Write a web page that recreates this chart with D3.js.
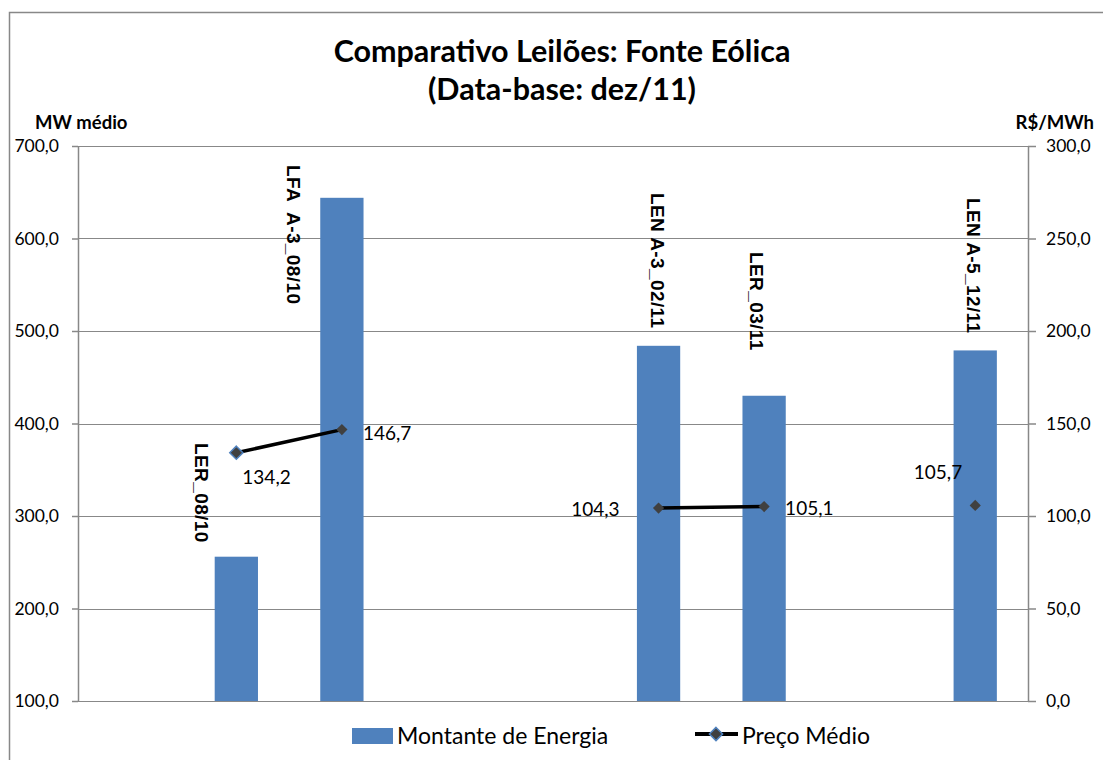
<!DOCTYPE html>
<html>
<head>
<meta charset="utf-8">
<script src="https://cdn.jsdelivr.net/npm/d3@7"></script>
<style>
  body { margin: 0; background: #fff; }
  svg { display: block; }
  .tick text { font-family: Lato, "Open Sans", sans-serif; font-size: 17.5px; fill: #000; }
</style>
</head>
<body>
<div id="chart"></div>
<script>
// Data (empty slots keep the gaps between auctions)
var slots = [0, 1, 2, 3, 4, 5, 6, 7, 8];
var auctionNames = [null, "LER_08/10", "LFA  A-3_08/10", null, null, "LEN A-3_02/11", "LER_03/11", null, "LEN A-5_12/11"];
var energy = [null, 256, 644, null, null, 484, 430, null, 479];   // MW médio
var price = [null, 134.2, 146.7, null, null, 104.3, 105.1, null, 105.7]; // R$/MWh
var leftTicks = [100, 200, 300, 400, 500, 600, 700];
var rightTicks = [0, 50, 100, 150, 200, 250, 300];

// label nudges as placed by hand in the original (layout only)
var nameNudge = {1: [-35, 443], 2: [-48, 165], 5: [-1, 193], 6: [-7, 252], 8: [-2, 198]};
var priceNudge = {1: [6, 31, "start"], 2: [21, 10, "start"], 5: [-39, 8, "end"], 6: [21, 8, "start"], 8: [-13, -26, "end"]};

var W = 1103, H = 760;
var margin = {top: 146, right: 75, bottom: 59, left: 78};
var width = W - margin.left - margin.right;
var height = H - margin.top - margin.bottom;

var pt = d3.formatLocale({decimal: ",", thousands: ".", grouping: [3], currency: ["R$", ""]});
var fmt = pt.format(".1f");

var svg = d3.select("#chart").append("svg")
    .attr("width", W)
    .attr("height", H);

// outer frame
svg.append("rect")
    .attr("x", 9.5).attr("y", 12.5)
    .attr("width", W + 20).attr("height", H + 20)
    .attr("fill", "none").attr("stroke", "#888").attr("stroke-width", 1.5);

// title
svg.append("text")
    .attr("x", 562).attr("y", 62)
    .attr("text-anchor", "middle")
    .style("font-family", "Lato, sans-serif").style("font-weight", "bold").style("font-size", "30.5px")
    .text("Comparativo Leilões: Fonte Eólica");
svg.append("text")
    .attr("x", 562).attr("y", 100)
    .attr("text-anchor", "middle")
    .style("font-family", "Lato, sans-serif").style("font-weight", "bold").style("font-size", "30.5px")
    .text("(Data-base: dez/11)");

// axis titles
svg.append("text")
    .attr("x", 35).attr("y", 129)
    .style("font-family", "Lato, sans-serif").style("font-weight", "bold").style("font-size", "18.5px")
    .text("MW médio");
svg.append("text")
    .attr("x", 1094).attr("y", 129)
    .attr("text-anchor", "end")
    .style("font-family", "Lato, sans-serif").style("font-weight", "bold").style("font-size", "18.5px")
    .text("R$/MWh");

var g = svg.append("g")
    .attr("transform", "translate(" + margin.left + "," + margin.top + ")");

var x = d3.scaleBand().domain(slots).range([0, width]).paddingInner(0.59).paddingOuter(0.295);
var yL = d3.scaleLinear().domain([100, 700]).range([height, 0]);
var yR = d3.scaleLinear().domain([0, 300]).range([height, 0]);
var cx = function(i) { return x(i) + x.bandwidth() / 2; };

// gridlines
g.selectAll(".grid").data(leftTicks).enter().append("line")
    .attr("x1", 0).attr("x2", width)
    .attr("y1", function(d) { return Math.round(yL(d)) + 0.5; })
    .attr("y2", function(d) { return Math.round(yL(d)) + 0.5; })
    .attr("stroke", "#888").attr("stroke-width", 1.2);

// axes
var axL = g.append("g")
    .call(d3.axisLeft(yL).tickValues(leftTicks).tickFormat(fmt).tickSize(6).tickPadding(13));
var axR = g.append("g")
    .attr("transform", "translate(" + width + ",0)")
    .call(d3.axisRight(yR).tickValues(rightTicks).tickFormat(fmt).tickSize(8).tickPadding(10));
[axL, axR].forEach(function(a) {
    a.selectAll("path, line").attr("stroke", "#888").attr("stroke-width", 1.5);
    a.select(".domain").attr("d", "M0.5,0V" + height);
});

// bars
var barData = slots.filter(function(i) { return energy[i] != null; });
g.selectAll(".bar").data(barData).enter().append("rect")
    .attr("x", function(i) { return x(i); })
    .attr("width", x.bandwidth())
    .attr("y", function(i) { return yL(energy[i]); })
    .attr("height", function(i) { return height - yL(energy[i]); })
    .attr("fill", "#4F81BD");

// price line
var line = d3.line()
    .defined(function(i) { return price[i] != null; })
    .x(function(i) { return cx(i); })
    .y(function(i) { return yR(price[i]); });
g.append("path")
    .attr("d", line(slots))
    .attr("fill", "none").attr("stroke", "#000").attr("stroke-width", 3.5);

var diamond = d3.symbol().type(d3.symbolDiamond2);
var priceData = slots.filter(function(i) { return price[i] != null; });
g.selectAll(".pt").data(priceData).enter().append("path")
    .attr("transform", function(i) { return "translate(" + cx(i) + "," + yR(price[i]) + ")"; })
    .attr("d", function(i, k) { return diamond.size(k === 0 ? 110 : 80)(); })
    .attr("fill", "#404040")
    .attr("stroke", function(i, k) { return k === 0 ? "#4F81BD" : "none"; })
    .attr("stroke-width", 1.5);

// price labels
g.selectAll(".plab").data(priceData).enter().append("text")
    .attr("x", function(i) { return cx(i) + priceNudge[i][0]; })
    .attr("y", function(i) { return yR(price[i]) + priceNudge[i][1]; })
    .attr("text-anchor", function(i) { return priceNudge[i][2]; })
    .style("font-family", "Lato, sans-serif").style("font-size", "19px")
    .text(function(i) { return fmt(price[i]); });

// auction names (rotated)
g.selectAll(".nlab").data(barData).enter().append("text")
    .attr("transform", function(i) {
        return "translate(" + (cx(i) + nameNudge[i][0]) + "," + (nameNudge[i][1] - margin.top) + ") rotate(90)";
    })
    .attr("dy", "0.35em")
    .style("white-space", "pre")
    .style("font-family", "'Liberation Sans', Arial, sans-serif").style("font-weight", "bold")
    .style("font-size", "19px").style("letter-spacing", "0.4px")
    .text(function(i) { return auctionNames[i]; });

// legend
var lg = svg.append("g");
lg.append("rect").attr("x", 352).attr("y", 728).attr("width", 41).attr("height", 16).attr("fill", "#4F81BD");
lg.append("text").attr("x", 397).attr("y", 744)
    .style("font-family", "Lato, sans-serif").style("font-size", "23px")
    .text("Montante de Energia");
lg.append("line").attr("x1", 695).attr("x2", 738).attr("y1", 734).attr("y2", 734)
    .attr("stroke", "#000").attr("stroke-width", 4);
lg.append("path").attr("transform", "translate(716,734)")
    .attr("d", diamond.size(110)())
    .attr("fill", "#404040").attr("stroke", "#4F81BD").attr("stroke-width", 1.5);
lg.append("text").attr("x", 742).attr("y", 744)
    .style("font-family", "Lato, sans-serif").style("font-size", "23px")
    .text("Preço Médio");
</script>
</body>
</html>
